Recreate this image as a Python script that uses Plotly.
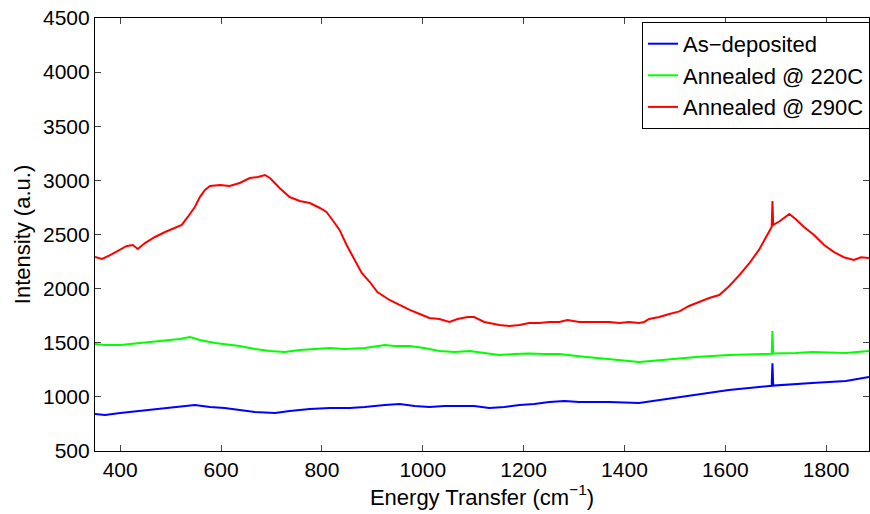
import plotly.graph_objects as go

# ---- data ----
red_x = [350, 364, 380, 400, 413, 425, 435, 449, 469, 489, 508, 522, 534, 548, 558, 568, 578, 598,
         617, 637, 657, 673, 687, 697, 716, 736, 756, 776, 796, 809, 821, 835, 849, 865, 879, 895,
         910, 934, 954, 974, 994, 1013, 1033, 1053, 1069, 1089, 1102, 1122, 1132, 1152, 1172, 1192,
         1211, 1231, 1251, 1271, 1287, 1310, 1330, 1350, 1370, 1390, 1409, 1429, 1439, 1449, 1469,
         1489, 1509, 1528, 1548, 1568, 1588, 1607, 1627, 1647, 1667, 1683, 1692, 1693.5, 1695, 1707,
         1721, 1727, 1740, 1756, 1776, 1796, 1815, 1835, 1855, 1869, 1885]
red_y = [2292, 2274, 2310, 2357, 2394, 2403, 2366, 2421, 2477, 2523, 2560, 2588, 2662, 2754, 2846,
         2911, 2948, 2957, 2948, 2976, 3022, 3031, 3050, 3022, 2930, 2846, 2810, 2791, 2745, 2708,
         2634, 2542, 2403, 2265, 2144, 2061, 1969, 1895, 1849, 1803, 1766, 1729, 1720, 1692, 1720,
         1738, 1738, 1692, 1683, 1664, 1655, 1664, 1683, 1683, 1692, 1692, 1710, 1692, 1692, 1692,
         1692, 1683, 1692, 1683, 1692, 1720, 1738, 1766, 1790, 1840, 1880, 1913, 1941, 2020, 2120,
         2230, 2360, 2500, 2570, 2810, 2590, 2620, 2675, 2690, 2640, 2570, 2495, 2403, 2340, 2290,
         2265, 2290, 2283]

green_x = [350, 370, 400, 439, 469, 499, 518, 538, 558, 588, 617, 637, 667, 697, 726, 756, 786, 816,
           845, 885, 925, 944, 974, 1003, 1033, 1063, 1093, 1122, 1152, 1182, 1211, 1241, 1271,
           1310, 1350, 1376, 1429, 1475, 1542, 1607, 1673, 1692, 1693.5, 1695, 1740, 1772, 1839, 1885]
green_y = [1488, 1479, 1479, 1498, 1507, 1525, 1535, 1553, 1525, 1498, 1479, 1470, 1442, 1424, 1415,
           1433, 1442, 1451, 1442, 1451, 1479, 1470, 1470, 1451, 1424, 1415, 1424, 1405, 1387, 1396,
           1400, 1396, 1396, 1375, 1359, 1350, 1322, 1341, 1368, 1387, 1396, 1398, 1608, 1400, 1405,
           1415, 1405, 1424]

blue_x = [350, 370, 400, 439, 469, 499, 528, 548, 578, 607, 637, 667, 707, 736, 776, 816, 855, 885,
          925, 954, 984, 1013, 1043, 1073, 1102, 1132, 1162, 1192, 1221, 1251, 1281, 1310, 1340,
          1370, 1429, 1509, 1607, 1687, 1692, 1693.5, 1695, 1772, 1839, 1885]
blue_y = [842, 833, 851, 870, 888, 906, 916, 925, 906, 897, 879, 860, 851, 870, 888, 897, 897, 906,
          925, 934, 916, 906, 916, 916, 916, 897, 906, 925, 934, 953, 962, 953, 953, 953, 944, 1000,
          1064, 1100, 1102, 1310, 1104, 1128, 1147, 1184]

x_ticks = [400, 600, 800, 1000, 1200, 1400, 1600, 1800]
y_ticks = [500, 1000, 1500, 2000, 2500, 3000, 3500, 4000, 4500]

series = [
    ("As\u2212deposited", blue_x, blue_y, "#0000ff"),
    ("Annealed @ 220C", green_x, green_y, "#00ff00"),
    ("Annealed @ 290C", red_x, red_y, "#ff0000"),
]

fig = go.Figure()
for name, xs, ys, col in series:
    fig.add_trace(go.Scatter(x=xs, y=ys, mode="lines", name=name,
                             line=dict(color=col, width=2)))

font = "Liberation Sans, Arial, sans-serif"
axis_common = dict(showline=True, linecolor="black", linewidth=1.2, mirror="ticks",
                   ticks="inside", ticklen=6, tickcolor="#444", showgrid=False,
                   zeroline=False, tickfont=dict(family=font, size=21, color="black"))

fig.update_layout(
    width=870, height=514,
    margin=dict(l=95, r=0, t=18, b=63),
    paper_bgcolor="white", plot_bgcolor="white",
    font=dict(family=font, color="black"),
    xaxis=dict(range=[350, 1885], tickvals=x_ticks,
               title=dict(text="Energy Transfer (cm<sup>\u22121</sup>)",
                          font=dict(family=font, size=22), standoff=4),
               **axis_common),
    yaxis=dict(range=[500, 4500], tickvals=y_ticks,
               title=dict(text="Intensity (a.u.)", font=dict(family=font, size=22), standoff=6),
               **axis_common),
    legend=dict(x=0.707, y=0.991, xanchor="left", yanchor="top",
                bordercolor="black", borderwidth=1, bgcolor="white",
                font=dict(family=font, size=22, color="black"),
                tracegroupgap=0, itemwidth=30),
    showlegend=True,
)

fig.write_html("out.html")
